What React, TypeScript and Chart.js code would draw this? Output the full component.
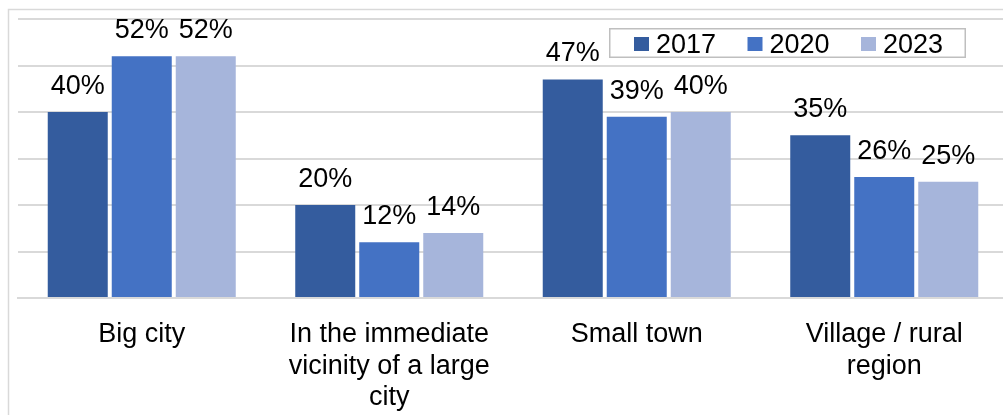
import React, { useEffect, useRef } from "react";
import { Chart, registerables } from "chart.js";

Chart.register(...registerables);

const categories: (string | string[])[] = [
  "Big city",
  ["In the immediate", "vicinity of a large", "city"],
  "Small town",
  ["Village / rural", "region"],
];
const years = ["2017", "2020", "2023"];
const values2017 = [40, 20, 47, 35];
const values2020 = [52, 12, 39, 26];
const values2023 = [52, 14, 40, 25];
const colors = ["#345C9E", "#4472C4", "#A6B5DB"];
const yMin = 0;
const yMax = 60;
const yStep = 10;

const FONT = "'Liberation Sans', Arial, sans-serif";

const decorPlugin = {
  id: "decor",
  beforeDraw(chart: any) {
    const ctx = chart.ctx;
    ctx.save();
    ctx.fillStyle = "#ffffff";
    ctx.fillRect(0, 0, chart.width, chart.height);
    ctx.strokeStyle = "#d9d9d9";
    ctx.lineWidth = 1.5;
    ctx.strokeRect(8.5, 9.5, 3000, 3000);
    ctx.restore();
  },
  afterDatasetsDraw(chart: any) {
    const ctx = chart.ctx;
    ctx.save();
    ctx.font = `27px ${FONT}`;
    ctx.fillStyle = "#000000";
    ctx.textAlign = "center";
    ctx.textBaseline = "alphabetic";
    chart.data.datasets.forEach((ds: any, i: number) => {
      const meta = chart.getDatasetMeta(i);
      meta.data.forEach((bar: any, j: number) => {
        ctx.fillText(`${ds.data[j]}%`, bar.x, bar.y - 18);
      });
    });
    ctx.restore();
  },
  afterDraw(chart: any) {
    const ctx = chart.ctx;
    ctx.save();
    const bx = 609, by = 28, bw = 357, bh = 30;
    ctx.fillStyle = "#ffffff";
    ctx.fillRect(bx, by, bw, bh);
    ctx.strokeStyle = "#bfbfbf";
    ctx.lineWidth = 1.5;
    ctx.strokeRect(bx + 0.75, by + 0.75, bw - 1.5, bh - 1.5);
    ctx.font = `27px ${FONT}`;
    ctx.textAlign = "left";
    ctx.textBaseline = "alphabetic";
    chart.data.datasets.forEach((ds: any, i: number) => {
      const x = 634 + i * 113.5;
      ctx.fillStyle = ds.backgroundColor;
      ctx.fillRect(x, 37, 15, 14);
      ctx.fillStyle = "#000000";
      ctx.fillText(ds.label, x + 22, 53);
    });
    ctx.restore();
  },
};

export default function App() {
  const ref = useRef<HTMLCanvasElement | null>(null);
  useEffect(() => {
    if (!ref.current) return;
    const chart = new Chart(ref.current, {
      type: "bar",
      data: {
        labels: categories,
        datasets: [values2017, values2020, values2023].map((d, i) => ({
          label: years[i],
          data: d,
          backgroundColor: colors[i],
          borderWidth: 0,
          categoryPercentage: 0.7758,
          barPercentage: 0.9375,
        })),
      },
      options: {
        responsive: false,
        animation: false,
        devicePixelRatio: 1,
        layout: { padding: { left: 18, right: 22, top: 19, bottom: 0 } },
        plugins: {
          legend: { display: false },
          tooltip: { enabled: false },
        },
        scales: {
          x: {
            grid: { display: false, drawTicks: false, tickLength: 0 },
            border: { display: true, color: "#d9d9d9", width: 2 },
            ticks: {
              color: "#000000",
              padding: 21,
              maxRotation: 0,
              autoSkip: false,
              font: { family: FONT, size: 27, lineHeight: 1.167 },
            },
            afterFit: (scale: any) => {
              scale.height = 117;
            },
          },
          y: {
            min: yMin,
            max: yMax,
            ticks: { display: false, stepSize: yStep },
            grid: { color: "#d9d9d9", lineWidth: 2, drawTicks: false, tickLength: 0 },
            border: { display: false },
          },
        },
      },
      plugins: [decorPlugin],
    });
    return () => chart.destroy();
  }, []);
  return (
    <div
      style={{
        position: "fixed",
        left: 0,
        top: 0,
        width: 1003,
        height: 415,
        overflow: "hidden",
        background: "#ffffff",
      }}
    >
      <canvas ref={ref} width={1030} height={415} style={{ display: "block", width: 1030, height: 415 }} />
    </div>
  );
}
